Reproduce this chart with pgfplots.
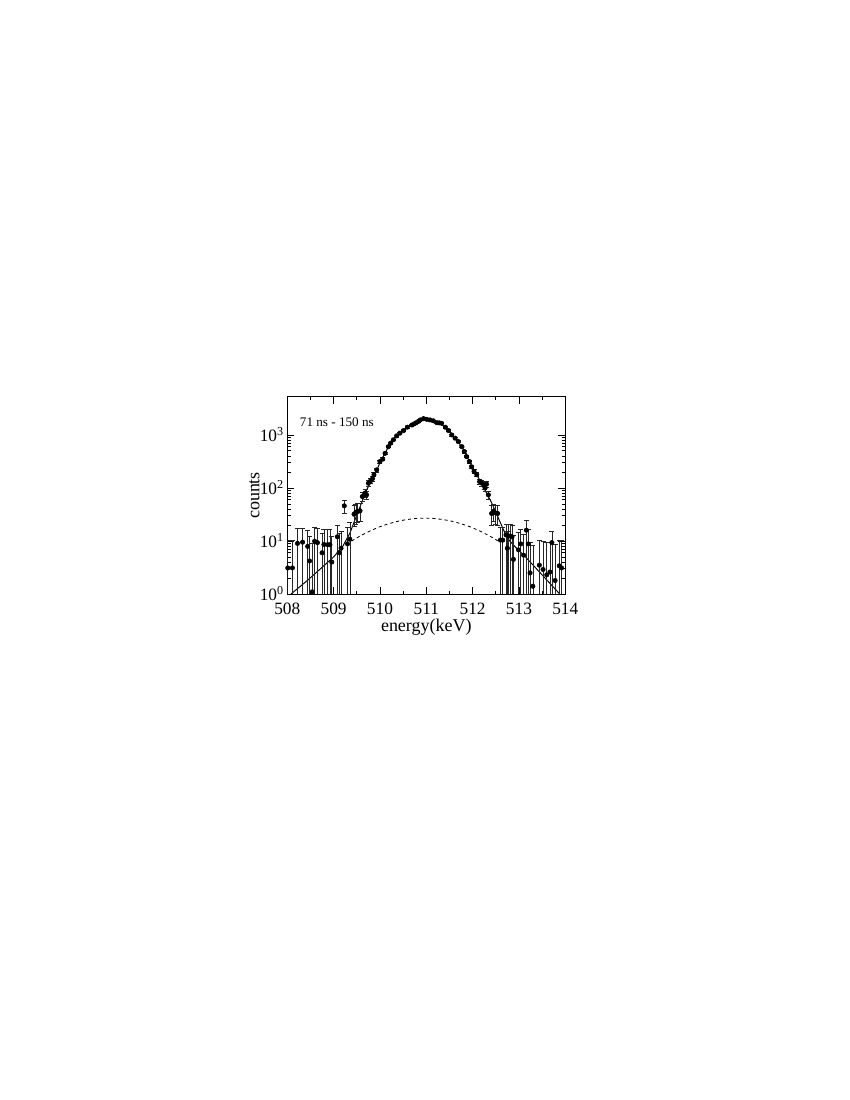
\documentclass[border=0pt]{standalone}
\usepackage{pgfplots}
\pgfplotsset{compat=1.18}
\usepackage{pgfplotstable}
\usepackage{fontspec}
\setmainfont{Liberation Serif}

% measured spectrum: energy, counts, error up, error down
\pgfplotstableread{
x      y     ep   em
508.01 3.1   7    2.7
508.11 3.1   7    2.7
508.22 9.0   8    8.6
508.33 9.5   8    9.1
508.44 7.9   8    7.5
508.48 4.2   8    3.8
508.54 1.1   8    0.8
508.59 9.9   8    9.5
508.65 9.3   8    8.9
508.75 6.0   8    5.6
508.79 8.6   8    8.2
508.87 8.5   8    8.1
508.92 8.5   8    8.1
508.96 4.0   8    3.6
509.08 12    8    11.5
509.12 6.0   8    5.6
509.16 7.3   8    6.9
509.23 46    12   13
509.30 8.8   9    8.4
509.35 10.8  12   10.4
509.44 32    15   13
509.48 35    15   14
509.52 36    15   14
509.57 37    15   14
509.62 69    14   13
509.68 80    14   13
509.71 74    14   13
509.75 123   16   15
509.80 137   16   15
509.84 150   16   15
509.87 178   16   15
509.93 219   20   20
510.00 315   20   20
510.06 350   20   20
510.11 450   28   28
510.18 600   28   28
510.23 700   28   28
510.29 810   28   28
510.36 960   40   40
510.43 1080  40   40
510.51 1210  40   40
510.59 1400  40   40
510.69 1540  40   40
510.74 1620  40   40
510.78 1700  40   40
510.83 1800  40   40
510.87 1920  40   40
510.94 2030  40   40
511.01 1970  40   40
511.08 1920  40   40
511.15 1850  40   40
511.23 1700  40   40
511.28 1690  40   40
511.33 1660  40   40
511.41 1400  40   40
511.48 1210  40   40
511.55 1000  40   40
511.62 870   28   28
511.69 750   28   28
511.77 600   28   28
511.82 485   28   28
511.87 390   20   20
511.93 315   20   20
511.98 250   20   20
512.03 205   20   20
512.09 178   16   15
512.15 132   16   15
512.20 123   16   15
512.25 110   16   15
512.27 100   16   15
512.30 118   16   15
512.34 74    14   13
512.41 33    14   13
512.45 36    14   13
512.49 34    14   13
512.54 33    14   13
512.60 10.4  8    10.0
512.65 10.4  8    10.0
512.72 13    8    12.5
512.75 7.3   8    6.9
512.77 12.4  8    12.0
512.81 12.4  8    12.0
512.85 12    8    11.5
512.88 4.5   8    4.1
512.99 6.8   8    6.4
513.04 8.8   8    8.4
513.10 5.4   8    5.0
513.16 16    8    15.5
513.20 8.8   8    8.4
513.24 2.5   7    2.2
513.30 1.4   7    1.1
513.44 3.5   7    3.2
513.52 2.9   7    2.6
513.60 2.3   7    2.0
513.67 2.6   7    2.3
513.71 9.3   6    8.9
513.78 1.8   7    1.5
513.87 3.4   7    3.1
513.92 3.1   7    2.8
}\spectrum

% total fit
\pgfplotstableread{
x      y
508.08 1.0
508.4  1.7
508.7  2.9
509.0  5.0
509.2  8.0
509.35 14
509.46 25
509.57 44
509.71 91
509.82 142
509.93 215
510.0  300
510.1  440
510.2  630
510.3  830
510.4  1030
510.5  1220
510.6  1420
510.7  1600
510.8  1750
510.9  1900
511.0  1960
511.1  1920
511.2  1780
511.3  1650
511.4  1420
511.5  1180
511.6  910
511.7  720
511.8  530
511.9  360
512.0  240
512.1  170
512.2  120
512.3  80
512.4  55
512.5  35
512.6  22
512.7  14
512.8  10
512.88 8.4
513.17 4.7
513.46 2.5
513.88 1.0
}\fit

% broad component
\pgfplotstableread{
x      y
509.39 10.0
509.57 12.4
509.77 15.2
509.97 18.2
510.17 20.9
510.37 23.4
510.57 25.3
510.77 26.6
510.97 27.0
511.17 26.6
511.37 25.3
511.57 23.4
511.77 20.9
511.97 18.2
512.17 15.2
512.37 12.4
512.55 10.0
}\broad

\begin{document}
\begin{tikzpicture}
\useasboundingbox (0,0) rectangle (8.5in,11in);
\begin{axis}[
    at={(2.873in,5.06in)},
    anchor=south west,
    scale only axis,
    width=2.78in,
    height=1.97in,
    ymode=log,
    xmin=508, xmax=514,
    ymin=1, ymax=5200,
    xtick={508,509,...,514},
    minor x tick num=1,
    ytick={1,10,100,1000},
    yticklabels={10\textsuperscript{0},10\textsuperscript{1},10\textsuperscript{2},10\textsuperscript{3}},
    tick align=inside,
    major tick length=5pt,
    minor tick length=2.5pt,
    axis line style={line width=0.7pt},
    every tick/.style={black, line width=0.6pt},
    /pgf/number format/assume math mode=true,
    /pgf/number format/1000 sep={},
    ticklabel style={font=\fontsize{12.5}{14}\selectfont},
    xticklabel style={yshift=-3pt},
    yticklabel style={xshift=1pt},
    xlabel={energy(keV)},
    ylabel={counts},
    label style={font=\fontsize{13}{15}\selectfont},
    xlabel style={at={(axis description cs:0.5,-0.17)}, anchor=center},
    ylabel style={at={(axis description cs:-0.118,0.5)}, anchor=center},
]

\addplot[black, line width=0.7pt] table[x=x, y=y] {\fit};
\addplot[black, line width=0.6pt, dash pattern=on 2.2pt off 2.2pt] table[x=x, y=y] {\broad};

\addplot[only marks, mark=*, mark size=1.6pt, black,
    error bars/.cd, y dir=both, y explicit,
    error bar style={black!85, line width=0.5pt},
    error mark options={black!85, rotate=90, mark size=1.8pt, line width=0.5pt}]
    table[x=x, y=y, y error plus=ep, y error minus=em] {\spectrum};

\node[anchor=west, font=\fontsize{9.5}{11}\selectfont]
    at (rel axis cs:0.028,0.873) {71 ns - 150 ns};
\end{axis}
\end{tikzpicture}
\end{document}
